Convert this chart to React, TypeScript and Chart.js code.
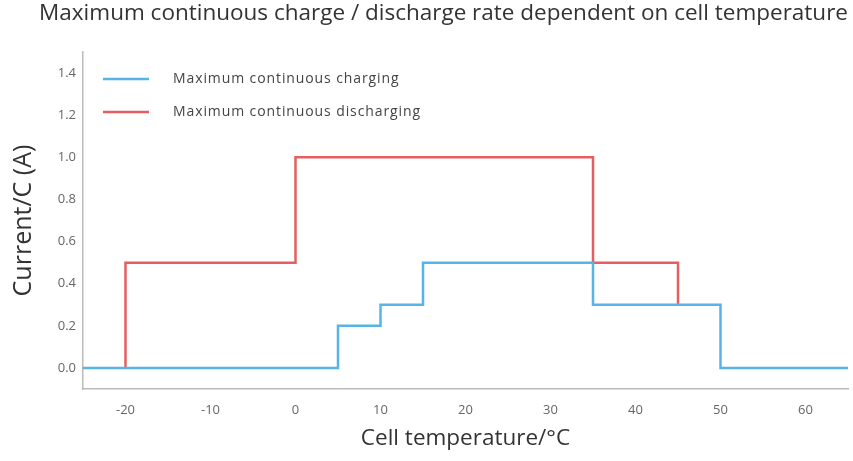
import React, { useEffect, useRef } from 'react';
import { Chart, registerables } from 'chart.js';

Chart.register(...registerables);

const chartTitle = 'Maximum continuous charge / discharge rate dependent on cell temperature';
const xTitle = 'Cell temperature/°C';
const yTitle = 'Current/C (A)';
const seriesNames = ['Maximum continuous charging', 'Maximum continuous discharging'];

const chargeTemp = [-25, 5, 5, 10, 10, 15, 15, 35, 35, 50, 50, 65];
const chargeRate = [0, 0, 0.2, 0.2, 0.3, 0.3, 0.5, 0.5, 0.3, 0.3, 0, 0];

const dischargeTemp = [-20, -20, 0, 0, 35, 35, 45, 45];
const dischargeRate = [0, 0.5, 0.5, 1.0, 1.0, 0.5, 0.5, 0.3];

const xTicks = [-20, -10, 0, 10, 20, 30, 40, 50, 60];
const yTicks = [0, 0.2, 0.4, 0.6, 0.8, 1.0, 1.2, 1.4];

const BLUE = 'rgb(86, 180, 230)';
const RED = 'rgb(228, 96, 96)';
const FONT = '"Open Sans", "DejaVu Sans", sans-serif';

const legendPlugin = {
  id: 'insideLegend',
  afterDraw(chart: any) {
    const ctx = chart.ctx as CanvasRenderingContext2D;
    const { left, top } = chart.chartArea;
    ctx.save();
    chart.data.datasets.forEach((ds: any, i: number) => {
      const y = top + 27 + i * 33;
      ctx.strokeStyle = ds.borderColor;
      ctx.lineWidth = 2.5;
      ctx.beginPath();
      ctx.moveTo(left + 20, y);
      ctx.lineTo(left + 66, y);
      ctx.stroke();
      ctx.fillStyle = '#444';
      ctx.font = '14px ' + FONT;
      (ctx as any).letterSpacing = '0.9px';
      ctx.textBaseline = 'middle';
      ctx.textAlign = 'left';
      ctx.fillText(ds.label, left + 90, y);
    });
    ctx.restore();
  },
};

export default function App() {
  const ref = useRef<HTMLCanvasElement | null>(null);

  useEffect(() => {
    if (!ref.current) return;
    const chart = new Chart(ref.current, {
      type: 'scatter',
      data: {
        datasets: [
          {
            label: seriesNames[0],
            data: chargeTemp.map((x, i) => ({ x, y: chargeRate[i] })),
            borderColor: BLUE,
            backgroundColor: BLUE,
            borderWidth: 2.5,
            showLine: true,
            pointRadius: 0,
            fill: false,
          },
          {
            label: seriesNames[1],
            data: dischargeTemp.map((x, i) => ({ x, y: dischargeRate[i] })),
            borderColor: RED,
            backgroundColor: RED,
            borderWidth: 2.5,
            showLine: true,
            pointRadius: 0,
            fill: false,
          },
        ],
      },
      options: {
        responsive: false,
        animation: false,
        layout: { padding: { left: 0, right: 5, top: 0, bottom: 0 } },
        plugins: {
          legend: { display: false },
          tooltip: { enabled: false },
          title: {
            display: true,
            text: chartTitle,
            align: 'end',
            color: '#333',
            font: { family: FONT, size: 22.5, weight: 'normal' },
            padding: { top: 0.5, bottom: 24.5 },
          },
        },
        scales: {
          x: {
            type: 'linear',
            min: -25,
            max: 65,
            grid: { display: false, tickLength: 0 },
            border: { display: true, color: '#bbb', width: 1.5 },
            afterBuildTicks: (s: any) => {
              s.ticks = xTicks.map((v) => ({ value: v }));
            },
            afterFit: (s: any) => {
              s.height = 72;
            },
            ticks: {
              color: '#666',
              padding: 13,
              maxRotation: 0,
              font: { family: FONT, size: 13 },
              callback: (v: any) => String(v),
            },
            title: {
              display: true,
              text: xTitle,
              color: '#333',
              font: { family: FONT, size: 22.5 },
              padding: { top: 0, bottom: 8.5 },
            },
          },
          y: {
            type: 'linear',
            min: -0.1,
            max: 1.5,
            grid: { display: false, tickLength: 0 },
            border: { display: true, color: '#bbb', width: 1.5 },
            afterBuildTicks: (s: any) => {
              s.ticks = yTicks.map((v) => ({ value: v }));
            },
            afterFit: (s: any) => {
              s.width = 83;
            },
            ticks: {
              color: '#666',
              padding: 7,
              font: { family: FONT, size: 13 },
              callback: (v: any) => Number(v).toFixed(1),
            },
            title: {
              display: true,
              text: yTitle,
              color: '#333',
              font: { family: FONT, size: 25 },
              padding: { top: 9, bottom: 0 },
            },
          },
        },
      },
      plugins: [legendPlugin],
    } as any);
    return () => chart.destroy();
  }, []);

  return (
    <div style={{ position: 'fixed', left: 0, top: 0, width: 853, height: 461, background: '#fff' }}>
      <canvas ref={ref} width={853} height={461} style={{ display: 'block' }} />
    </div>
  );
}
